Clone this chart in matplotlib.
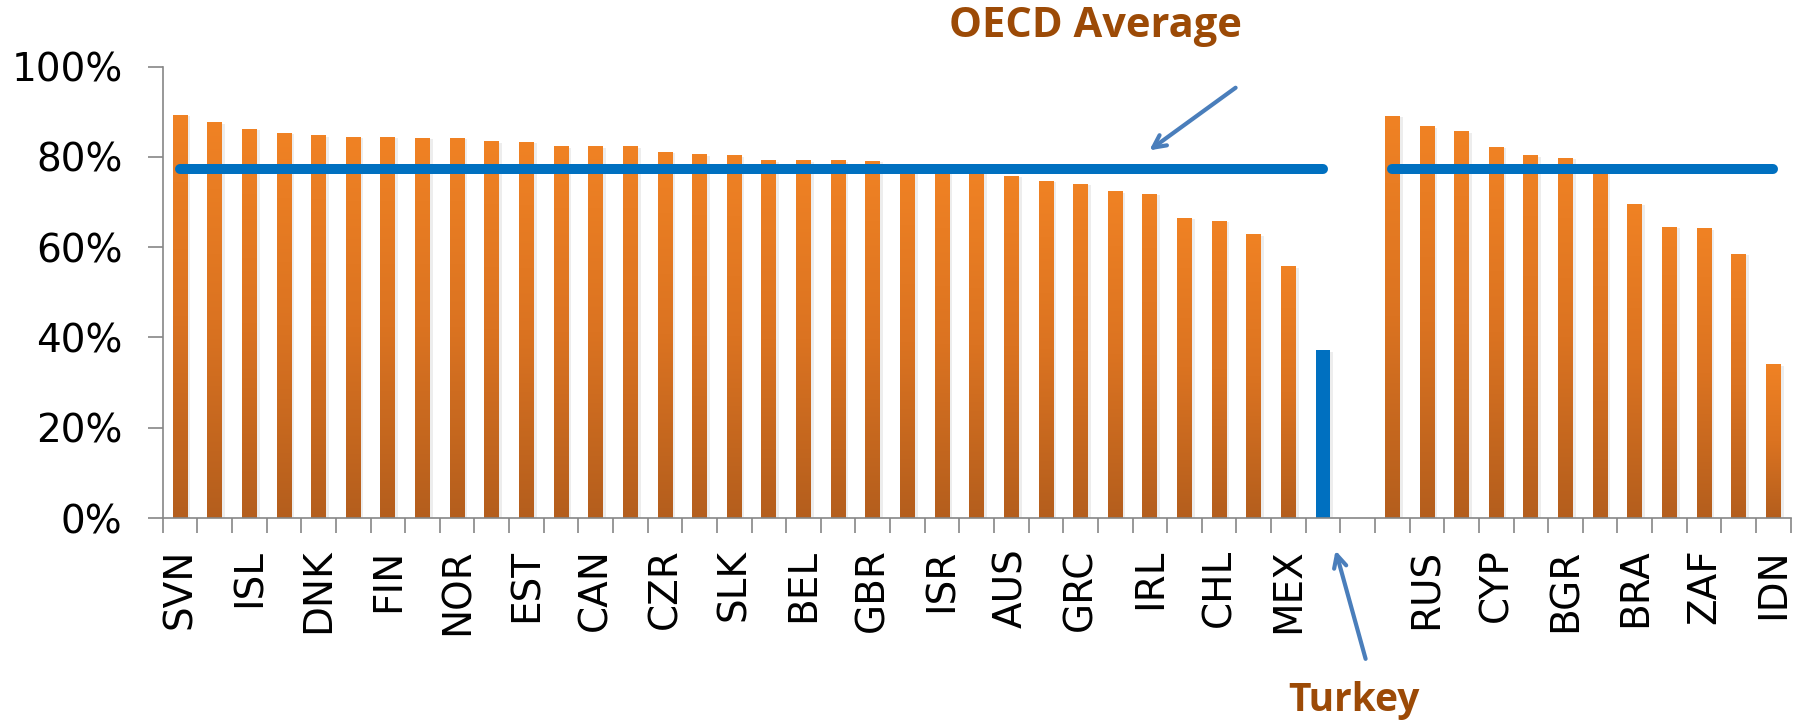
import numpy as np
import matplotlib
matplotlib.use('Agg')
import matplotlib.pyplot as plt
from matplotlib.colors import LinearSegmentedColormap
from matplotlib.ticker import PercentFormatter, FixedLocator
import matplotlib.patheffects as pe

# Left group: OECD countries (only every other one is labelled in the chart)
oecd_labels = ['SVN', '', 'ISL', '', 'DNK', '', 'FIN', '', 'NOR', '', 'EST', '',
               'CAN', '', 'CZR', '', 'SLK', '', 'BEL', '', 'GBR', '', 'ISR', '',
               'AUS', '', 'GRC', '', 'IRL', '', 'CHL', '', 'MEX', '']
oecd_values = [89.3, 87.7, 86.2, 85.3, 84.8, 84.4, 84.4, 84.2, 84.2, 83.5, 83.3, 82.4,
               82.4, 82.4, 81.1, 80.6, 80.4, 79.3, 79.3, 79.3, 79.1, 77.9, 77.0, 76.5,
               75.8, 74.7, 74.0, 72.4, 71.8, 66.5, 65.8, 62.9, 55.8, 37.2]
turkey_index = 33  # last bar of the OECD group is Turkey

# Right group: partner countries
partner_labels = ['', 'RUS', '', 'CYP', '', 'BGR', '', 'BRA', '', 'ZAF', '', 'IDN']
partner_values = [89.1, 86.8, 85.7, 82.2, 80.4, 79.8, 77.3, 69.6, 64.5, 64.2, 58.5, 34.1]

oecd_average = 77.3

# category positions (one empty slot between the two groups)
oecd_x = np.arange(len(oecd_values))
partner_x = np.arange(len(partner_values)) + len(oecd_values) + 1
all_x = np.concatenate([oecd_x, [len(oecd_values)], partner_x])
all_labels = oecd_labels + [''] + partner_labels
n_cat = len(all_x)

fig = plt.figure(figsize=(18.02, 7.25), dpi=100)
ax = fig.add_axes([0.0903, 0.2855, 0.9034, 0.6225])

cmap = LinearSegmentedColormap.from_list('bar_grad', ['#B45E1D', '#DB7321', '#F08224'])
grad = np.linspace(0, 1, 256).reshape(-1, 1)

bar_w = 0.43
shadow = [pe.SimplePatchShadow(offset=(2, -1), shadow_rgbFace='#000000', alpha=0.07), pe.Normal()]

def draw_bars(xs, vals, blue_idx=None):
    bars = ax.bar(xs, vals, width=bar_w, color='#E57A22', linewidth=0, zorder=2)
    for i, b in enumerate(bars):
        b.set_path_effects(shadow)
        if i == blue_idx:
            b.set_facecolor('#0070C0')
            continue
        x0, y0 = b.get_x(), b.get_y()
        im = ax.imshow(grad, extent=[x0, x0 + b.get_width(), y0, y0 + b.get_height()],
                       origin='lower', aspect='auto', cmap=cmap, zorder=2.5)
        im.set_clip_path(b)

draw_bars(oecd_x, oecd_values, blue_idx=turkey_index)
draw_bars(partner_x, partner_values)

# OECD average lines over each group
ax.plot([oecd_x[0], oecd_x[-1]], [oecd_average, oecd_average], color='#0070C0',
        lw=7.2, solid_capstyle='round', zorder=4)
ax.plot([partner_x[0], partner_x[-1]], [oecd_average, oecd_average], color='#0070C0',
        lw=7.2, solid_capstyle='round', zorder=4)

ax.set_xlim(-0.5, n_cat - 0.5)
ax.set_ylim(0, 100)

# axes styling
axis_col = '#868686'
for s in ['top', 'right']:
    ax.spines[s].set_visible(False)
for s in ['left', 'bottom']:
    ax.spines[s].set_color(axis_col)
    ax.spines[s].set_linewidth(1.2)

ax.yaxis.set_major_locator(FixedLocator([0, 20, 40, 60, 80, 100]))
ax.yaxis.set_major_formatter(PercentFormatter(100, decimals=0))
ax.tick_params(axis='y', direction='out', length=11, width=1.2, color=axis_col,
               labelsize=28, pad=18)

ax.set_xticks(all_x)
ax.set_xticklabels(all_labels, rotation=90, fontsize=28, va='top')
ax.set_xticks(np.arange(n_cat + 1) - 0.5, minor=True)
ax.tick_params(axis='x', which='major', length=0, pad=22)
ax.tick_params(axis='x', which='minor', direction='out', length=11, width=1.2, color=axis_col)

text_col = '#9C4A06'
arrow_col = '#4A7EBB'

ax.text(26.44, 108.8, 'OECD Average', ha='center', va='center', fontsize=30,
        fontweight='bold', family='Open Sans', color=text_col, clip_on=False)
ax.annotate('', xy=(27.92, 81.1), xytext=(30.54, 95.7),
            arrowprops=dict(arrowstyle='->,head_length=0.9,head_width=0.45',
                            color=arrow_col, lw=3), annotation_clip=False)

ax.text(33.9, -40.5, 'Turkey', ha='center', va='center', fontsize=28,
        fontweight='bold', family='Open Sans', color=text_col, clip_on=False)
ax.annotate('', xy=(33.34, -6.6), xytext=(34.25, -31.8),
            arrowprops=dict(arrowstyle='->,head_length=0.9,head_width=0.45',
                            color=arrow_col, lw=3), annotation_clip=False)

fig.savefig('out.png', dpi=100)
